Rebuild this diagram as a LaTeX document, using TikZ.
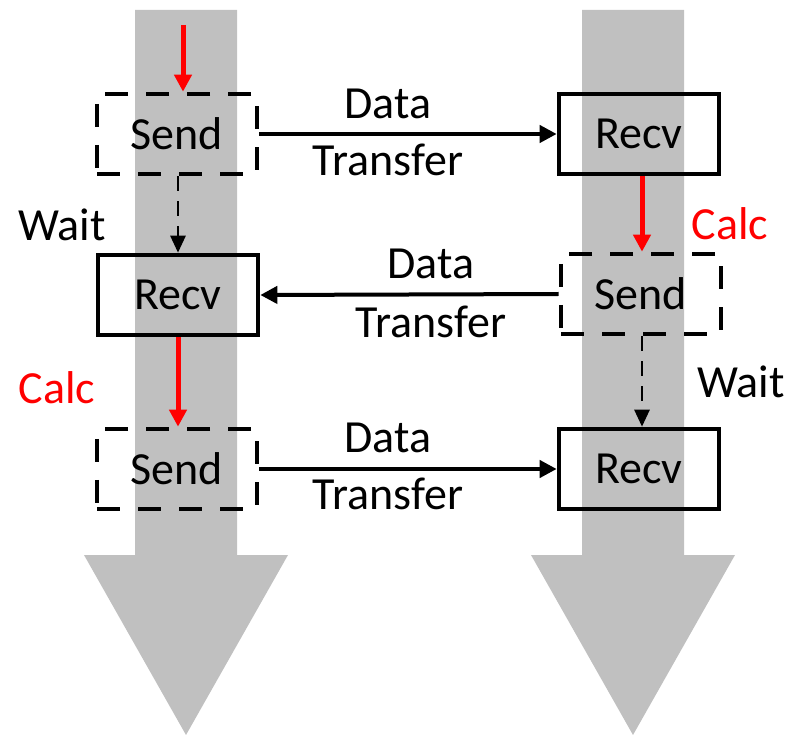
\documentclass[tikz,border=0pt]{standalone}
\usepackage{fontspec}
\setmainfont{Carlito}
\usetikzlibrary{arrows.meta}
\definecolor{lane}{RGB}{192,192,192}
\definecolor{calcred}{RGB}{255,0,0}
\begin{document}
\begin{tikzpicture}[x=1pt,y=-1pt,
  every node/.style={font=\fontsize{46}{50}\selectfont, inner sep=0pt},
  sendbox/.style={draw, line width=4.6pt, dash pattern=on 23pt off 18pt,
    minimum width=160pt, minimum height=80pt},
  recvbox/.style={draw, line width=4.6pt, minimum width=160pt, minimum height=80pt},
  transfer/.style={line width=4pt, -{Triangle[length=17pt,width=17pt]}},
  waitarrow/.style={line width=2.7pt, dash pattern=on 15pt off 10pt,
    -{Triangle[length=17pt,width=15pt]}},
  calcarrow/.style={calcred, line width=5pt, -{Triangle[length=17pt,width=17pt]}},
  calctext/.style={text=calcred}
]
\useasboundingbox (0,0) rectangle (788,735);

% timelines of the two processes
\fill[lane] (135,10) -- (237,10) -- (237,555) -- (288,555) -- (186,735)
  -- (84,555) -- (135,555) -- cycle;
\fill[lane] (582,10) -- (684,10) -- (684,555) -- (735,555) -- (633,735)
  -- (531,555) -- (582,555) -- cycle;

% operations
\node[sendbox] (s1) at (177,134) {Send};
\node[recvbox] (r1) at (639,134) {Recv};
\node[recvbox] (r2) at (178,295) {Recv};
\node[sendbox] (s2) at (641,294) {Send};
\node[sendbox] (s3) at (177,469) {Send};
\node[recvbox] (r3) at (639,469) {Recv};

% data transfers
\draw[transfer] (s1.east) -- (r1.west);
\draw[transfer] (s2.west) -- (r2.east);
\draw[transfer] (s3.east) -- (r3.west);
\node (d1) at (388,104) {Data};
\node (t1) at (388,160) {Transfer};
\node (d2) at (431,264) {Data};
\node (t2) at (431,322) {Transfer};
\node (d3) at (388,438) {Data};
\node (t3) at (388,494) {Transfer};

% computation between operations
\coordinate (start) at (183,25);
\draw[calcarrow] (start) -- (start |- s1.north);
\coordinate (c2) at (642,0);
\draw[calcarrow] (c2 |- r1.south) -- (c2 |- s2.north);
\coordinate (c3) at (178,0);
\draw[calcarrow] (c3 |- r2.south) -- (c3 |- s3.north);

% waiting
\coordinate (w1) at (178,0);
\draw[waitarrow] (w1 |- s1.south) -- (w1 |- r2.north);
\coordinate (w2) at (642,0);
\draw[waitarrow] (w2 |- s2.south) -- (w2 |- r3.north);

\node (wl) at (62,225) {Wait};
\node[calctext] (cr) at (730,224) {Calc};
\node[calctext] (cl) at (57,388) {Calc};
\node (wr) at (741,382) {Wait};
\end{tikzpicture}
\end{document}
